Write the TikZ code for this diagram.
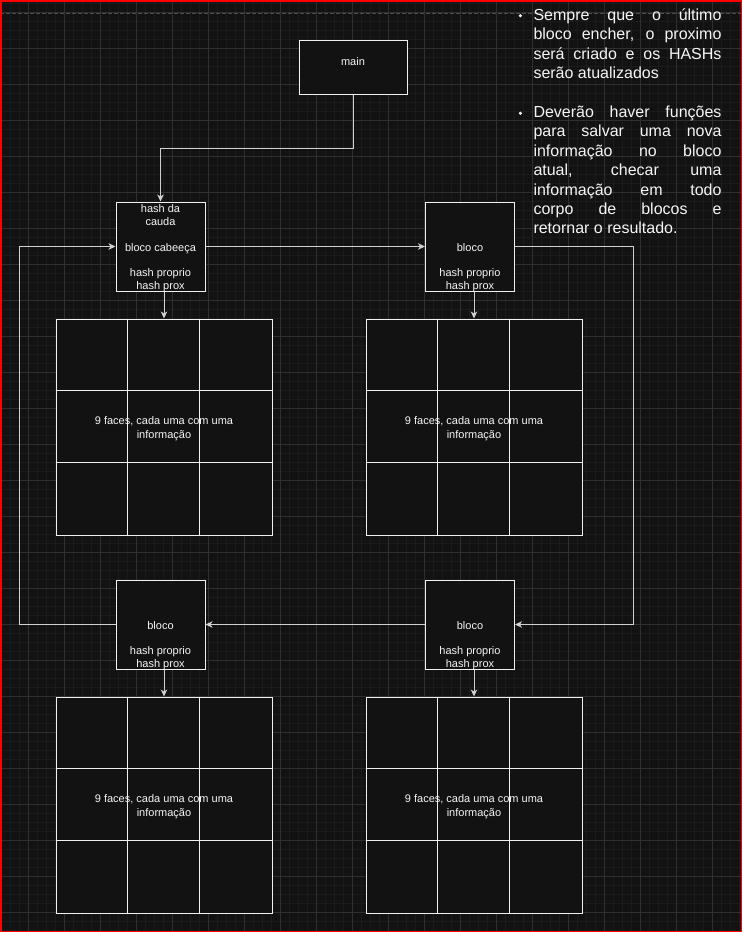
\documentclass[tikz,border=0pt]{standalone}
\usepackage{fontspec}
\setmainfont{Liberation Sans}
\usetikzlibrary{arrows.meta}
\definecolor{bg}{HTML}{121212}
\definecolor{gminor}{HTML}{1B1B1B}
\definecolor{gmajor}{HTML}{2F2F2F}
\definecolor{pagebrk}{HTML}{4E4E4E}
\definecolor{boxline}{HTML}{F0F0F0}
\definecolor{connline}{HTML}{D0D0D0}
\definecolor{txt}{HTML}{F5F5F5}
\definecolor{frame}{HTML}{FF0000}
\tikzset{
  blk/.style={draw=boxline, fill=bg, line width=1pt, minimum width=89, minimum height=89, inner sep=0pt},
  mainbox/.style={draw=boxline, fill=bg, line width=1pt, minimum width=108, minimum height=54, inner sep=0pt},
  gridbox/.style={draw=boxline, fill=bg, line width=1pt, minimum width=216, minimum height=216, inner sep=0pt},
  cell/.style={draw=boxline, line width=1pt},
  conn/.style={draw=connline, line width=1pt},
  arr/.style={conn, -{Stealth[length=7pt,width=6.5pt,inset=2pt]}},
  boxtxt/.style={text=txt, align=center, inner sep=0pt, font=\fontsize{11}{12.8}\selectfont},
  gridtxt/.style={text=txt, align=center, inner sep=0pt, font=\fontsize{11}{14}\selectfont},
  notetxt/.style={text=txt, anchor=base west, inner sep=0pt, font=\fontsize{16}{19.4}\selectfont},
  dot/.style={circle, fill=txt, inner sep=0pt, minimum size=3.5pt}
}
\begin{document}
\begin{tikzpicture}[x=1pt,y=-1pt]
\useasboundingbox (0,0) rectangle (742,932);
\fill[bg] (0,0) rectangle (742,932);
% background grid
\foreach \i in {0,...,82} {\draw[gminor, line width=0.8pt] ({1.3+9*\i},0) -- ({1.3+9*\i},932);}
\foreach \i in {0,...,103} {\draw[gminor, line width=0.8pt] (0,{3.3+9*\i}) -- (742,{3.3+9*\i});}
\foreach \i in {0,...,19} {\draw[gmajor, line width=0.9pt] ({28.3+36*\i},0) -- ({28.3+36*\i},932);}
\foreach \i in {0,...,25} {\draw[gmajor, line width=0.9pt] (0,{12.3+36*\i}) -- (742,{12.3+36*\i});}
\draw[pagebrk, line width=1pt, dash pattern=on 4pt off 2pt] (0,13) -- (742,13);

% main
\node[mainbox] (main) at (353,67) {};
\node[boxtxt] (maintxt) at (353,61.5) {main};

% blocks
\node[blk] (head) at (160.5,246.5) {};
\node[blk] (b2) at (470,246.5) {};
\node[blk] (b3) at (160.5,624.5) {};
\node[blk] (b4) at (470,624.5) {};

\node[boxtxt] (headtxt) at ([yshift=-2pt]head.center) {\strut hash da\\\strut cauda\\\strut~\\\strut bloco cabeeça\\\strut~\\\strut hash proprio\\\strut hash prox};
\node[boxtxt] (b2txt) at ([yshift=-2pt]b2.center) {\strut~\\\strut~\\\strut~\\\strut bloco\\\strut~\\\strut hash proprio\\\strut hash prox};
\node[boxtxt] (b3txt) at ([yshift=-2pt]b3.center) {\strut~\\\strut~\\\strut~\\\strut bloco\\\strut~\\\strut hash proprio\\\strut hash prox};
\node[boxtxt] (b4txt) at ([yshift=-2pt]b4.center) {\strut~\\\strut~\\\strut~\\\strut bloco\\\strut~\\\strut hash proprio\\\strut hash prox};

% grids
\foreach \g/\x/\y in {g1/164/427, g2/474/427, g3/164/805, g4/474/805} {
  \node[gridbox] (\g) at (\x,\y) {};
  \draw[cell] ([xshift=72pt]\g.north west) -- ([xshift=72pt]\g.south west);
  \draw[cell] ([xshift=144pt]\g.north west) -- ([xshift=144pt]\g.south west);
  \draw[cell] ([yshift=-72pt]\g.north west) -- ([yshift=-72pt]\g.north east);
  \draw[cell] ([yshift=-144pt]\g.north west) -- ([yshift=-144pt]\g.north east);
  \node[gridtxt] (\g txt) at ([yshift=-2pt]\g.center) {\strut 9 faces, cada uma com uma\\\strut informação};
}

% connectors
\draw[arr] (main.south) -- ++(0,54) -| (head.north);
\draw[arr] (head.east) -- (b2.west);
\draw[arr] (b2.east) -- ++(118,0) |- (b4.east);
\draw[arr] (b4.west) -- (b3.east);
\draw[arr] (b3.west) -- ++(-96,0) |- (head.west);
\draw[arr] (g1.north |- head.south) -- (g1.north);
\draw[arr] (g2.north |- b2.south) -- (g2.north);
\draw[arr] (g3.north |- b3.south) -- (g3.north);
\draw[arr] (g4.north |- b4.south) -- (g4.north);

% notes
\node[dot] (d1) at (520.3,15.7) {};
\node[dot] (d2) at (520.3,113.3) {};
\node[notetxt] (n1) at (533.3,20.5) {\makebox[188pt][s]{Sempre que o último}};
\node[notetxt] (n2) at (533.3,39.9) {\makebox[188pt][s]{bloco encher, o proximo}};
\node[notetxt] (n3) at (533.3,59.3) {\makebox[188pt][s]{será criado e os HASHs}};
\node[notetxt] (n4) at (533.3,78.7) {serão atualizados};
\node[notetxt] (n5) at (533.3,117.5) {\makebox[188pt][s]{Deverão haver funções}};
\node[notetxt] (n6) at (533.3,136.9) {\makebox[188pt][s]{para salvar uma nova}};
\node[notetxt] (n7) at (533.3,156.3) {\makebox[188pt][s]{informação no bloco}};
\node[notetxt] (n8) at (533.3,175.7) {\makebox[188pt][s]{atual, checar uma}};
\node[notetxt] (n9) at (533.3,195.1) {\makebox[188pt][s]{informação em todo}};
\node[notetxt] (n10) at (533.3,214.5) {\makebox[188pt][s]{corpo de blocos e}};
\node[notetxt] (n11) at (533.3,233.9) {retornar o resultado.};

% frame
\draw[frame, line width=1.5pt] (0.75,0.75) rectangle (741.25,931.25);
\end{tikzpicture}
\end{document}
